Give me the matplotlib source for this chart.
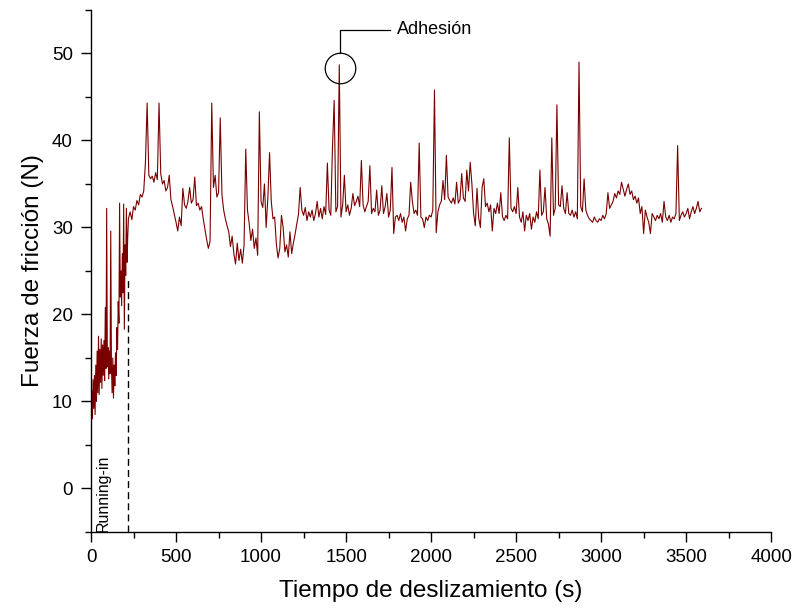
import numpy as np
import matplotlib
matplotlib.use("Agg")
import matplotlib.pyplot as plt
from matplotlib.ticker import MultipleLocator

plt.rcParams['font.family'] = ['Liberation Sans', 'DejaVu Sans']

# Running-in phase, sampled every 4 s (0..216 s)
t_run = np.arange(0, 220, 4)
f_run = [9.5, 11.2, 8.0, 12.5, 9.2, 13.0, 8.5, 14.2, 10.0, 15.8,
         11.0, 17.5, 10.8, 16.0, 12.2, 17.2, 11.5, 16.5, 13.0, 17.0,
         12.4, 20.8, 13.8, 32.2, 14.0, 16.2, 12.6, 15.8, 13.2, 29.6,
         14.0, 11.0, 15.0, 10.4, 14.2, 11.8, 15.6, 13.0, 18.5, 16.0,
         21.5, 19.0, 32.8, 22.0, 25.0, 21.0, 27.0, 22.5, 32.7, 18.3,
         28.0, 24.5, 32.2, 26.0, 29.0]

# Stable phase, sampled every 10 s (220..3590 s)
t_main = np.arange(220, 3600, 10)
f_main = [
    31.0, 31.8, 30.9, 32.4, 32.0, 33.1, 32.6, 33.8,
    33.5, 34.2, 37.5, 44.3, 36.0, 35.6, 35.9, 35.2, 36.3, 35.5,
    44.3, 36.2, 35.0, 35.4, 34.2, 34.6, 36.0, 33.2, 32.4, 31.5,
    30.6, 29.6, 31.2, 30.2, 34.5, 32.6, 32.2, 33.0, 34.6, 32.8,
    33.2, 35.8, 32.5, 32.8, 32.0, 32.4, 31.0, 29.8, 28.6, 27.6,
    28.4, 44.3, 34.6, 36.0, 33.5, 34.0, 42.6, 33.8, 32.0, 31.0,
    30.2, 29.5, 27.8, 29.0, 27.0, 25.8, 28.2, 26.2, 27.5, 25.9,
    28.0, 39.0, 32.0, 30.5, 28.5, 29.8, 27.6, 28.8, 26.8, 43.3,
    33.0, 32.3, 35.0, 30.0, 33.4, 38.6, 33.0, 31.0, 31.2, 28.1,
    26.5, 27.6, 31.4, 30.0, 27.2, 28.0, 26.6, 29.5, 27.0, 28.2,
    29.2, 30.4, 31.5, 34.6, 32.0, 31.4, 32.3, 30.8, 31.8, 31.2,
    32.0, 30.8, 31.6, 33.0, 31.2, 32.2, 31.0, 32.4, 31.5, 37.4,
    32.0, 31.4, 39.2, 44.6, 31.8, 32.4, 48.7, 31.2, 32.6, 36.0,
    31.8, 32.6, 31.4, 32.2, 33.9, 32.5, 33.0, 33.6, 32.4, 37.7,
    32.6, 31.8, 32.4, 33.0, 37.1, 31.6, 32.2, 31.8, 34.3, 31.4,
    32.0, 34.8, 31.6, 32.4, 33.9, 31.2, 32.0, 36.9, 29.3, 31.2,
    31.4, 30.8, 31.6, 30.6, 31.2, 29.6, 31.0, 31.4, 35.2, 33.0,
    31.6, 32.0, 31.4, 39.7, 31.2, 31.0, 30.0, 31.2, 30.8, 31.4,
    31.2, 32.0, 45.8, 29.4, 31.8, 32.6, 33.0, 35.4, 33.2, 38.3,
    33.5, 33.1, 32.8, 33.4, 32.7, 35.2, 32.8, 33.2, 36.2, 33.4,
    33.0, 36.6, 34.2, 37.5, 35.0, 31.6, 30.2, 34.5, 31.1, 30.0,
    34.6, 35.6, 32.4, 32.8, 31.8, 32.6, 29.6, 32.2, 31.6, 32.8,
    31.6, 34.0, 31.2, 30.8, 31.4, 31.0, 40.3, 32.2, 31.8, 32.4,
    31.6, 34.6, 31.2, 30.6, 31.8, 29.6, 31.4, 30.8, 31.6, 29.8,
    31.2, 30.6, 31.8, 31.0, 36.6, 31.4, 31.8, 34.6, 31.0, 30.4,
    29.0, 40.3, 31.4, 32.2, 44.1, 32.6, 32.4, 34.8, 32.2, 31.6,
    34.0, 31.6, 31.4, 32.0, 31.2, 31.8, 31.0, 49.0, 32.4, 31.8,
    35.6, 32.0, 31.4, 31.0, 30.8, 30.6, 31.2, 30.8, 30.6, 31.0,
    30.8, 31.4, 31.0, 31.6, 34.0, 32.2, 32.6, 33.0, 33.9, 33.4,
    34.2, 33.8, 35.2, 34.4, 33.6, 34.4, 35.0, 33.8, 34.2, 33.2,
    33.6, 32.8, 33.4, 31.6, 32.4, 29.3, 32.0, 31.2, 30.6, 29.3,
    31.6, 31.2, 30.8, 31.4, 31.0, 31.6, 30.6, 33.0, 31.2, 30.8,
    31.4, 30.6, 31.2, 31.0, 31.6, 39.4, 30.8, 31.4, 31.8, 31.2,
    31.6, 32.2, 31.0, 31.8, 32.4, 31.6, 32.2, 33.0, 31.8, 32.2,
]

x_ticks = [0, 500, 1000, 1500, 2000, 2500, 3000, 3500, 4000]
y_ticks = [0, 10, 20, 30, 40, 50]

t_all = np.concatenate([t_run, t_main])
f_all = np.concatenate([f_run, f_main])

fig = plt.figure(figsize=(7.95, 6.08), dpi=100)
ax = fig.add_axes([0.1145, 0.125, 0.8555, 0.8586])

ax.plot(t_all, f_all, color='#7a0000', lw=0.8)

# Running-in boundary
ax.plot([218, 218], [-5, 24.3], color='black', lw=1.0, ls=(0, (5, 3)))
ax.text(72, -0.5, 'Running-in', rotation=90, ha='center', va='center', fontsize=11.5)

# Adhesion annotation
ax.plot([1465], [48.3], marker='o', ms=22, mfc='none', mec='black', mew=0.9)
ax.plot([1465, 1465, 1759], [50.0, 52.7, 52.7], color='black', lw=0.9)
ax.text(1800, 52.7, 'Adhesión', ha='left', va='center', fontsize=13)

ax.set_xlim(0, 4000)
ax.set_ylim(-5, 55)
ax.set_xticks(x_ticks)
ax.set_yticks(y_ticks)
ax.xaxis.set_minor_locator(MultipleLocator(250))
ax.yaxis.set_minor_locator(MultipleLocator(5))
ax.tick_params(which='major', direction='out', length=7, width=1, labelsize=13.5, pad=5)
ax.tick_params(axis='y', which='major', pad=6)
ax.tick_params(which='minor', direction='out', length=4, width=1)
ax.spines['top'].set_visible(False)
ax.spines['right'].set_visible(False)
for s in ('left', 'bottom'):
    ax.spines[s].set_linewidth(1.0)

ax.set_xlabel('Tiempo de deslizamiento (s)', fontsize=17.5, labelpad=10)
ax.set_ylabel('Fuerza de fricción (N)', fontsize=17.5, labelpad=6)

fig.savefig('out.png', dpi=100)
